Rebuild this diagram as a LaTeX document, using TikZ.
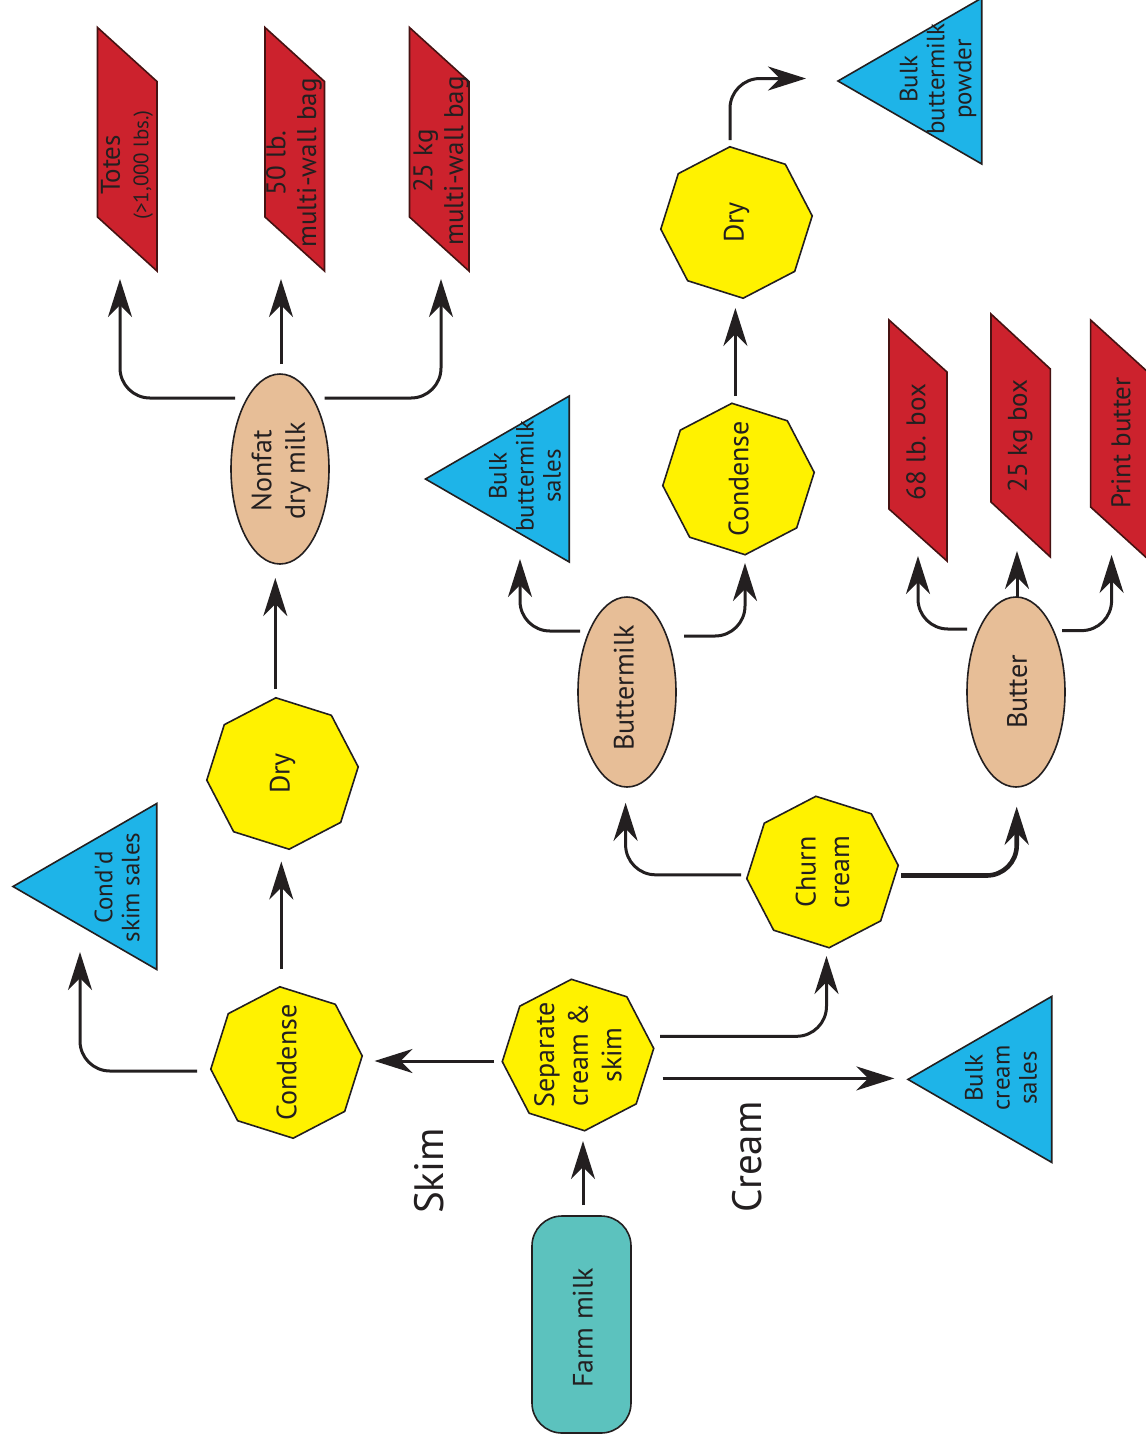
\documentclass[tikz,border=0pt]{standalone}
\usepackage{fontspec}
\setmainfont{PT Sans}
\usetikzlibrary{shapes.geometric,arrows.meta,calc}
\definecolor{ink}{RGB}{35,31,32}
\definecolor{cYellow}{RGB}{255,242,0}
\definecolor{cTan}{RGB}{231,190,151}
\definecolor{cBlue}{RGB}{30,180,232}
\definecolor{cRed}{RGB}{204,34,45}
\definecolor{cRedEdge}{RGB}{70,18,18}
\definecolor{cTeal}{RGB}{92,194,190}
\begin{document}
\begin{tikzpicture}[x=0.5pt,y=-0.5pt,
  octa/.style={regular polygon, regular polygon sides=8, minimum size=76pt, inner sep=0pt, outer sep=0pt,
    shape border rotate=-17.5, draw=ink, line width=0.8pt, fill=cYellow},
  oval/.style={ellipse, minimum width=49pt, minimum height=95pt, inner sep=0pt, outer sep=0pt,
    draw=ink, line width=0.8pt, fill=cTan},
  tri/.style={regular polygon, regular polygon sides=3, shape border rotate=90, minimum size=95.8pt,
    inner sep=0pt, outer sep=0pt, draw=ink, line width=0.8pt, fill=cBlue},
  redbox/.style={draw=cRedEdge, line width=0.8pt, fill=cRed},
  txt/.style={rotate=90, align=center, inner sep=0pt, text=ink, font=\fontsize{14}{16.8}\selectfont},
  ttxt/.style={txt, font=\fontsize{12.5}{13.5}\selectfont},
  ptxt/.style={txt, font=\fontsize{13.5}{15.3}\selectfont},
  big/.style={txt, font=\fontsize{20.5}{24}\selectfont},
  arr/.style={draw=ink, line width=1.5pt, rounded corners=15pt,
    -{Stealth[length=19pt, width=12pt, inset=6pt]}},
  thickarr/.style={arr, line width=2.3pt}
]
\useasboundingbox (0,0) rectangle (1146,1442);
\fill[white] (0,0) rectangle (1146,1442);

% ---------- red parallelograms ----------
\draw[redbox] (97.5,27.5) -- (157,81.5) -- (157,271) -- (97.5,217) -- cycle;
\draw[redbox] (265,27.5) -- (324.5,81.5) -- (324.5,271) -- (265,217) -- cycle;
\draw[redbox] (409.5,27.5) -- (469,81.5) -- (469,271) -- (409.5,217) -- cycle;
\draw[redbox] (889,320) -- (947,372) -- (947,561) -- (889,509) -- cycle;
\draw[redbox] (991,314) -- (1050.4,369) -- (1050.4,557) -- (991,502) -- cycle;
\draw[redbox] (1090.6,320) -- (1150,374) -- (1150,561) -- (1090.6,507) -- cycle;

\node[ptxt] (totes) at (127,165) {Totes\\[-1pt]{\fontsize{10.5}{12}\selectfont(>1,000 lbs.)}};
\node[ptxt] (lb50) at (294,163) {50 lb.\\multi-wall bag};
\node[ptxt] (kg25) at (441,161) {25 kg\\multi-wall bag};
\node[ptxt] (box68) at (916,442) {68 lb. box};
\node[ptxt] (box25) at (1020,436) {25 kg box};
\node[ptxt] (print) at (1121,443) {Print butter};

% ---------- main nodes ----------
\node[draw=ink, line width=0.8pt, fill=cTeal, rounded corners=15pt, minimum width=49.5pt,
      minimum height=108.5pt, inner sep=0pt] (farm) at (581.5,1324.5) {};
\node[txt] (farmt) at (583,1328) {Farm milk};

\node[octa] (sep) at (578,1055) {};
\node[txt] (sept) at (sep) {Separate\\cream \&\\skim};
\node[octa] (cond1) at (286.5,1062.5) {};
\node[txt] (cond1t) at (cond1) {Condense};
\node[octa] (dry1) at (282.5,773.5) {};
\node[txt] (dry1t) at (dry1) {Dry};
\node[oval] (nf) at (280,469) {};
\node[txt] (nft) at (281,471) {Nonfat\\dry milk};

\node[octa] (churn) at (822.5,872) {};
\node[txt] (churnt) at (churn) {Churn\\cream};
\node[oval] (bm) at (627,692) {};
\node[txt] (bmt) at (624,688) {Buttermilk};
\node[oval] (butter) at (1016,692) {};
\node[txt] (buttert) at (1017,692) {Butter};
\node[octa] (cond2) at (738.5,479) {};
\node[txt] (cond2t) at (cond2) {Condense};
\node[octa] (dry2) at (736.5,222.5) {};
\node[txt] (dry2t) at (dry2) {Dry};

% ---------- triangles ----------
\node[tri] (cds) at (108.8,886.5) {};
\node[ttxt] (cdst) at (117,887.5) {Cond\textquotesingle d\\skim sales};
\node[tri] (bbs) at (521.3,479) {};
\node[ttxt] (bbst) at (525,476) {Bulk\\buttermilk\\sales};
\node[tri] (bbp) at (933.8,81) {};
\node[ttxt] (bbpt) at (938,79) {Bulk\\buttermilk\\powder};
\node[tri] (bcs) at (1003.8,1079.4) {};
\node[ttxt] (bcst) at (1001,1078) {Bulk\\cream\\sales};

% ---------- labels ----------
\node[big] (skim) at (429,1171) {Skim};
\node[big] (cream) at (747,1157) {Cream};

% ---------- connectors ----------
\draw[arr] ($(farm.north)+(1.5,-10)$) -- ($(sep.center)+(5,86)$);
\draw[arr] ($(sep)+(-84,6)$) -- ($(cond1)+(88,-1.5)$);
\draw[arr] ($(cond1)+(-89.5,8.5)$) -| ($(cds)+(-28.8,65.5)$);
\draw[arr] ($(cond1)+(-5.2,-93.5)$) -- ($(dry1)+(-1.2,88)$);
\draw[arr] ($(dry1)+(-7.2,-84.5)$) -- ($(nf)+(-4.7,109)$);
\draw[arr] ($(nf)+(-45,-71)$) -| ($(totes)+(-7,114)$);
\draw[arr] ($(nf)+(1,-105)$) -- ($(lb50)+(-13,116)$);
\draw[arr] ($(nf)+(44.5,-71)$) -| ($(kg25)+(0,118)$);

\draw[arr] ($(sep)+(82,-18.7)$) -| ($(churn)+(4,84)$);
\draw[arr] ($(sep)+(84.7,23.4)$) -- ($(bcs)+(-109.5,-1)$);
\draw[arr] ($(churn)+(-81.3,2.8)$) -| ($(bm)+(-1.4,110.8)$);
\draw[thickarr] ($(churn)+(78.5,3.5)$) -| ($(butter)+(0.7,114.7)$);

\draw[arr] ($(bm)+(-47,-61)$) -| ($(bbs)+(-1.3,80)$);
\draw[arr] ($(bm)+(57,-56)$) -| ($(cond2)+(6.5,84)$);
\draw[arr] ($(cond2)+(-3.1,-83)$) -- ($(dry2)+(-1.1,85.5)$);
\draw[arr] ($(dry2)+(-6.5,-82.5)$) |- ($(bbp)+(-127.8,-2.5)$);

\draw[arr] ($(butter)+(-49,-63)$) -| ($(box68)+(2,114)$);
\draw[arr] ($(butter)+(1,-95)$) -- ($(box25)+(-3,115)$);
\draw[arr] ($(butter)+(46,-61.4)$) -| ($(print)+(-9.4,112)$);
\end{tikzpicture}
\end{document}
